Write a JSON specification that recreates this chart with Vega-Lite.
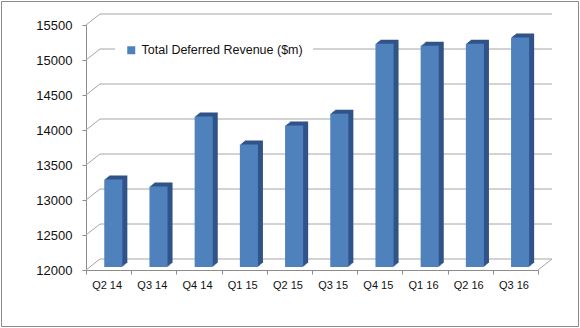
{
  "$schema": "https://vega.github.io/schema/vega-lite/v6.json",
  "width": 577,
  "height": 325,
  "autosize": {"type": "none"},
  "padding": {"left": 1, "top": 1, "right": 2, "bottom": 2},
  "background": "white",
  "config": {
    "view": {"stroke": "#8C8C8C", "strokeWidth": 1},
    "font": "Liberation Sans"
  },
  "datasets": {
    "rev": [
      {"q": "Q2 14", "v": 13250, "series": "Total Deferred Revenue ($m)"},
      {"q": "Q3 14", "v": 13150, "series": "Total Deferred Revenue ($m)"},
      {"q": "Q4 14", "v": 14150, "series": "Total Deferred Revenue ($m)"},
      {"q": "Q1 15", "v": 13750, "series": "Total Deferred Revenue ($m)"},
      {"q": "Q2 15", "v": 14020, "series": "Total Deferred Revenue ($m)"},
      {"q": "Q3 15", "v": 14190, "series": "Total Deferred Revenue ($m)"},
      {"q": "Q4 15", "v": 15190, "series": "Total Deferred Revenue ($m)"},
      {"q": "Q1 16", "v": 15160, "series": "Total Deferred Revenue ($m)"},
      {"q": "Q2 16", "v": 15190, "series": "Total Deferred Revenue ($m)"},
      {"q": "Q3 16", "v": 15280, "series": "Total Deferred Revenue ($m)"}
    ],
    "ticks": [
      {"t": 12000}, {"t": 12500}, {"t": 13000}, {"t": 13500},
      {"t": 14000}, {"t": 14500}, {"t": 15000}, {"t": 15500}
    ]
  },
  "layer": [
    {
      "data": {"name": "ticks"},
      "mark": {"type": "rule", "color": "#A6A6A6", "xOffset": 14, "x2Offset": 14, "yOffset": -11},
      "encoding": {
        "x": {"datum": "Q2 14", "type": "ordinal", "bandPosition": 0,
          "scale": {"domain": ["Q2 14","Q3 14","Q4 14","Q1 15","Q2 15","Q3 15","Q4 15","Q1 16","Q2 16","Q3 16"], "range": [85, 537], "paddingInner": 0, "paddingOuter": 0}},
        "x2": {"datum": "Q3 16", "bandPosition": 1},
        "y": {"field": "t", "type": "quantitative",
          "scale": {"domain": [12000, 15500], "range": [269, 24], "nice": false, "zero": false}}
      }
    },
    {
      "data": {"name": "ticks"},
      "mark": {"type": "rule", "color": "#A6A6A6", "x2Offset": 14, "y2Offset": -11},
      "encoding": {
        "x": {"datum": "Q2 14", "type": "ordinal", "bandPosition": 0},
        "x2": {"datum": "Q2 14", "bandPosition": 0},
        "y": {"field": "t", "type": "quantitative"},
        "y2": {"field": "t"}
      }
    },
    {
      "data": {"values": [{"t": 12000}]},
      "mark": {"type": "rule", "color": "#A6A6A6", "x2Offset": 14, "y2Offset": -11},
      "encoding": {
        "x": {"datum": "Q3 16", "type": "ordinal", "bandPosition": 1},
        "x2": {"datum": "Q3 16", "bandPosition": 1},
        "y": {"field": "t", "type": "quantitative"},
        "y2": {"field": "t"}
      }
    },
    {
      "data": {"name": "rev"},
      "mark": {"type": "bar", "color": "#2F5283", "width": {"band": 0.4}, "xOffset": 9.7, "yOffset": -7, "y2Offset": -7},
      "encoding": {
        "x": {"field": "q", "type": "ordinal"},
        "y": {"field": "v", "type": "quantitative"},
        "y2": {"datum": 12000}
      }
    },
    {
      "data": {"name": "rev"},
      "mark": {"type": "bar", "color": "#30548A", "width": {"band": 0.4}, "xOffset": 8.7, "yOffset": -6.2, "y2Offset": -6.2},
      "encoding": {
        "x": {"field": "q", "type": "ordinal"},
        "y": {"field": "v", "type": "quantitative"},
        "y2": {"datum": 12000}
      }
    },
    {
      "data": {"name": "rev"},
      "mark": {"type": "bar", "color": "#30548A", "width": {"band": 0.4}, "xOffset": 7.7, "yOffset": -5.4, "y2Offset": -5.4},
      "encoding": {
        "x": {"field": "q", "type": "ordinal"},
        "y": {"field": "v", "type": "quantitative"},
        "y2": {"datum": 12000}
      }
    },
    {
      "data": {"name": "rev"},
      "mark": {"type": "bar", "color": "#30548A", "width": {"band": 0.4}, "xOffset": 6.7, "yOffset": -4.6, "y2Offset": -4.6},
      "encoding": {
        "x": {"field": "q", "type": "ordinal"},
        "y": {"field": "v", "type": "quantitative"},
        "y2": {"datum": 12000}
      }
    },
    {
      "data": {"name": "rev"},
      "mark": {"type": "bar", "color": "#30548A", "width": {"band": 0.4}, "xOffset": 5.7, "yOffset": -3.8, "y2Offset": -3.8},
      "encoding": {
        "x": {"field": "q", "type": "ordinal"},
        "y": {"field": "v", "type": "quantitative"},
        "y2": {"datum": 12000}
      }
    },
    {
      "data": {"name": "rev"},
      "mark": {"type": "bar", "width": {"band": 0.4}, "xOffset": 4.7, "yOffset": -3, "y2Offset": -3},
      "encoding": {
        "x": {"field": "q", "type": "ordinal",
          "axis": {"orient": "bottom", "offset": -56, "title": null, "labelAngle": 0, "tickBand": "extent", "tickSize": 4,
            "labelPadding": 11, "labelOffset": 13, "labelFontSize": 11, "labelColor": "#111111", "domainColor": "#8C8C8C", "tickColor": "#8C8C8C", "grid": false}},
        "y": {"field": "v", "type": "quantitative",
          "axis": {"orient": "left", "offset": -85, "title": null, "grid": false, "values": [12000,12500,13000,13500,14000,14500,15000,15500],
            "tickSize": 4, "labelPadding": 10, "labelFontSize": 13, "labelColor": "#111111", "domainColor": "#8C8C8C", "tickColor": "#8C8C8C", "format": "d"}},
        "y2": {"datum": 12000},
        "color": {"field": "series", "type": "nominal", "scale": {"range": ["#4F81BD"]},
          "legend": {"orient": "none", "legendX": 114, "legendY": 33, "title": null, "symbolType": "square", "symbolSize": 64,
            "symbolStrokeWidth": 0, "labelFontSize": 12.5, "labelLimit": 400, "labelColor": "#111111", "fillColor": "white", "padding": 10, "labelOffset": 4}}
      }
    }
  ]
}
